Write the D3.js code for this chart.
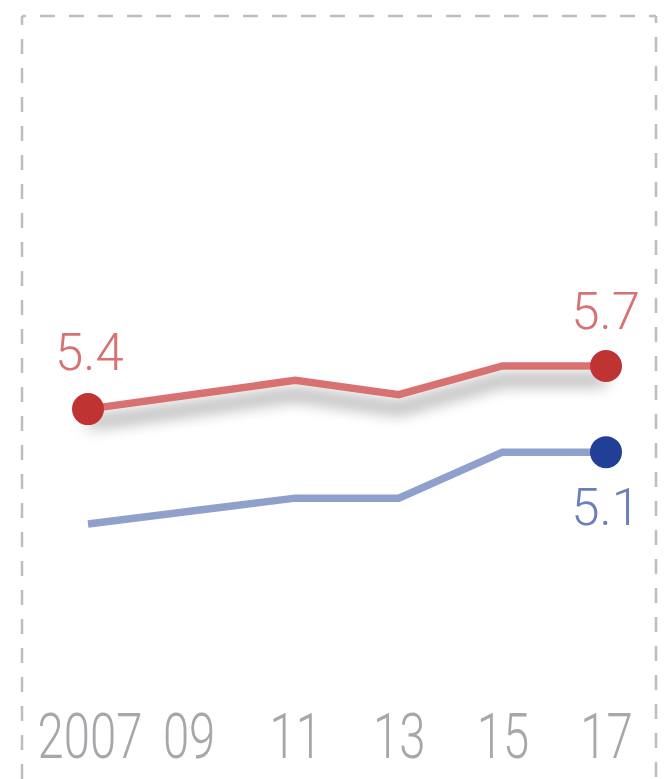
<!DOCTYPE html>
<html>
<head>
<meta charset="utf-8">
<script src="https://cdn.jsdelivr.net/npm/d3@7"></script>
<style>
  html, body { margin: 0; padding: 0; background: #fff; }
  svg { display: block; }
  text { font-family: Roboto, "Open Sans", sans-serif; font-weight: 300; }
</style>
</head>
<body>
<script>
const years = [2007, 2009, 2011, 2013, 2015, 2017];
const tickLabels = ["2007", "09", "11", "13", "15", "17"];
const redSeries = [5.4, 5.5, 5.6, 5.5, 5.7, 5.7];
const blueSeries = [4.6, 4.69, 4.78, 4.78, 5.1, 5.1];

const W = 667, H = 779;
const svg = d3.select("body").append("svg").attr("width", W).attr("height", H);

const defs = svg.append("defs");
const f = defs.append("filter").attr("id", "shadow").attr("filterUnits", "userSpaceOnUse")
  .attr("x", 0).attr("y", 300).attr("width", W).attr("height", 200);
f.append("feGaussianBlur").attr("in", "SourceAlpha").attr("stdDeviation", 8).attr("result", "b");
f.append("feOffset").attr("in", "b").attr("dx", 0).attr("dy", 14).attr("result", "o");
f.append("feComponentTransfer").attr("in", "o").attr("result", "s")
  .append("feFuncA").attr("type", "linear").attr("slope", 0.5);
const m = f.append("feMerge");
m.append("feMergeNode").attr("in", "s");
m.append("feMergeNode").attr("in", "SourceGraphic");

// dashed frame
const border = "#bdbdbd";
svg.append("line").attr("x1", 22).attr("y1", 16).attr("x2", 22).attr("y2", H)
  .attr("stroke", border).attr("stroke-width", 2.5).attr("stroke-dasharray", "15,14").attr("stroke-dashoffset", 6);
svg.append("line").attr("x1", 22).attr("y1", 16).attr("x2", 656).attr("y2", 16)
  .attr("stroke", border).attr("stroke-width", 2.5).attr("stroke-dasharray", "15,14").attr("stroke-dashoffset", 11);
svg.append("line").attr("x1", 656).attr("y1", 16).attr("x2", 656).attr("y2", H)
  .attr("stroke", border).attr("stroke-width", 2.5).attr("stroke-dasharray", "15,14").attr("stroke-dashoffset", 8);

const x = d3.scaleLinear().domain([2007, 2017]).range([88, 606]);
const y = d3.scaleLinear().domain([4.6, 5.7]).range([524, 366]);

const line = d3.line().x((d, i) => x(years[i])).y(d => y(d));

svg.append("path").datum(blueSeries).attr("d", line)
  .attr("fill", "none").attr("stroke", "#8fa0cc").attr("stroke-width", 7.5).attr("stroke-linejoin", "miter");
svg.append("path").datum(redSeries).attr("d", line)
  .attr("fill", "none").attr("stroke", "#d87171").attr("stroke-width", 7.5).attr("stroke-linejoin", "miter")
  .attr("filter", "url(#shadow)");

// dots
svg.append("circle").attr("cx", x(years[0])).attr("cy", y(redSeries[0])).attr("r", 16).attr("fill", "#c03333");
svg.append("circle").attr("cx", x(years[5])).attr("cy", y(redSeries[5])).attr("r", 16).attr("fill", "#c03333");
svg.append("circle").attr("cx", x(years[5])).attr("cy", y(blueSeries[5])).attr("r", 16).attr("fill", "#213f96");

// value labels
svg.append("text").attr("x", x(years[0]) - 33).attr("y", y(redSeries[0]) - 39)
  .attr("font-size", 51).attr("fill", "#d87272").attr("text-anchor", "start").text(redSeries[0].toFixed(1));
svg.append("text").attr("x", x(years[5]) + 34).attr("y", y(redSeries[5]) - 37)
  .attr("font-size", 51).attr("fill", "#d87272").attr("text-anchor", "end").text(redSeries[5].toFixed(1));
svg.append("text").attr("x", x(years[5]) + 34).attr("y", y(blueSeries[5]) + 73)
  .attr("font-size", 51).attr("fill", "#6b7fbf").attr("text-anchor", "end").text(blueSeries[5].toFixed(1));

// x axis labels
const axis = d3.axisBottom(x).tickValues(years).tickSize(0).tickFormat((d, i) => tickLabels[i]);
const g = svg.append("g").attr("transform", "translate(0,758)").call(axis);
g.select(".domain").remove();
g.selectAll(".tick text")
  .attr("y", 0).attr("dy", 0)
  .attr("x", (d, i) => i === 1 ? -4 : (i === 0 ? 2 : 0))
  .attr("font-size", 63).attr("fill", "#a6a6ab")
  .attr("font-family", "Roboto, 'Open Sans', sans-serif").attr("font-weight", 300)
  .attr("transform", "scale(0.75,1)");
</script>
</body>
</html>
